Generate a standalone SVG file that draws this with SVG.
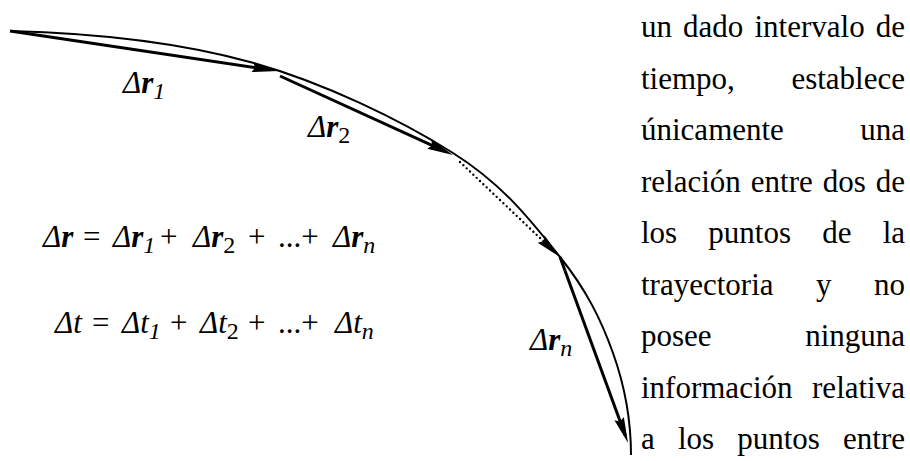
<svg xmlns="http://www.w3.org/2000/svg" width="910" height="461" viewBox="0 0 910 461">
<style>
  .txt{font-family:"Liberation Serif","Times New Roman",serif;font-size:31px;fill:#000}
  .it{font-style:italic}
  .bi{font-style:italic;font-weight:bold}
  .sub{font-size:24px}
  .vec{stroke:#000;stroke-width:3;fill:none}
  .path{stroke:#000;stroke-width:2;fill:none}
  .dot{stroke:#000;stroke-width:2.4;fill:none;stroke-dasharray:0 4.6;stroke-linecap:round}
</style>
<defs>
  <marker id="ah" markerUnits="userSpaceOnUse" markerWidth="30" markerHeight="14" refX="18" refY="5" orient="auto" overflow="visible">
    <path d="M0,0 L26,5 L0,10 L3,5 z" fill="#000"/>
  </marker>
</defs>
<g id="trajectory">
  <path class="path" d="M10,31 C90,33 176.2,41.7 250,62 C323.8,82.3 401.3,120.5 453,153 C504.7,185.5 533.3,223.7 560,257 C586.7,290.3 601.2,320 613,353 C624.8,386 631,420 631,455"/>
</g>
<g id="connectors">
  <line class="vec" x1="10" y1="31" x2="270.1" y2="69.8" marker-end="url(#ah)"/>
  <line class="vec" x1="280" y1="76" x2="445.7" y2="151.7" marker-end="url(#ah)"/>
  <line class="dot" x1="460" y1="162" x2="554.2" y2="251.5" marker-end="url(#ah)"/>
  <line class="vec" x1="560" y1="257" x2="625.3" y2="435.5" marker-end="url(#ah)"/>
</g>
<g id="label-r1">
  <text class="txt" y="93"><tspan x="123" class="it">Δ</tspan><tspan class="bi">r</tspan><tspan class="it sub" dy="6">1</tspan></text>
</g>
<g id="label-r2">
  <text class="txt" y="137"><tspan x="308" class="it">Δ</tspan><tspan class="bi">r</tspan><tspan class="sub" dy="6">2</tspan></text>
</g>
<g id="label-rn">
  <text class="txt" y="350"><tspan x="530" class="it">Δ</tspan><tspan class="bi">r</tspan><tspan class="it sub" dy="6">n</tspan></text>
</g>
<g id="eq-r">
  <text class="txt" y="247"><tspan x="43" class="it">Δ</tspan><tspan class="bi">r</tspan><tspan x="83">=</tspan><tspan x="113" class="it">Δ</tspan><tspan class="bi">r</tspan><tspan class="it sub" dy="6">1</tspan><tspan x="160" dy="-6">+</tspan><tspan x="193" class="it">Δ</tspan><tspan class="bi">r</tspan><tspan class="sub" dy="6">2</tspan><tspan x="248" dy="-6">+</tspan><tspan x="278">...+</tspan><tspan x="333" class="it">Δ</tspan><tspan class="bi">r</tspan><tspan class="it sub" dy="6">n</tspan></text>
</g>
<g id="eq-t">
  <text class="txt" y="333"><tspan x="55" class="it">Δt</tspan><tspan x="92">=</tspan><tspan x="122" class="it">Δt</tspan><tspan class="it sub" dy="6">1</tspan><tspan x="170" dy="-6">+</tspan><tspan x="200" class="it">Δt</tspan><tspan class="sub" dy="6">2</tspan><tspan x="248" dy="-6">+</tspan><tspan x="278">...+</tspan><tspan x="335" class="it">Δt</tspan><tspan class="it sub" dy="6">n</tspan></text>
</g>
<g id="paragraph">
  <text class="txt" y="37"><tspan x="641">un</tspan><tspan x="683.1">dado</tspan><tspan x="754.5">intervalo</tspan><tspan x="905" text-anchor="end">de</tspan></text>
  <text class="txt" y="88.5"><tspan x="641">tiempo,</tspan><tspan x="905" text-anchor="end">establece</tspan></text>
  <text class="txt" y="140"><tspan x="641">únicamente</tspan><tspan x="905" text-anchor="end">una</tspan></text>
  <text class="txt" y="191.5"><tspan x="641">relación</tspan><tspan x="750.8">entre</tspan><tspan x="822.8">dos</tspan><tspan x="905" text-anchor="end">de</tspan></text>
  <text class="txt" y="243"><tspan x="641">los</tspan><tspan x="708.3">puntos</tspan><tspan x="822.2">de</tspan><tspan x="905" text-anchor="end">la</tspan></text>
  <text class="txt" y="294.5"><tspan x="641">trayectoria</tspan><tspan x="816">y</tspan><tspan x="905" text-anchor="end">no</tspan></text>
  <text class="txt" y="346"><tspan x="641">posee</tspan><tspan x="905" text-anchor="end">ninguna</tspan></text>
  <text class="txt" y="397.5"><tspan x="641">información</tspan><tspan x="905" text-anchor="end">relativa</tspan></text>
  <text class="txt" y="449"><tspan x="641">a</tspan><tspan x="677.9">los</tspan><tspan x="737.2">puntos</tspan><tspan x="905" text-anchor="end">entre</tspan></text>
</g>
</svg>
